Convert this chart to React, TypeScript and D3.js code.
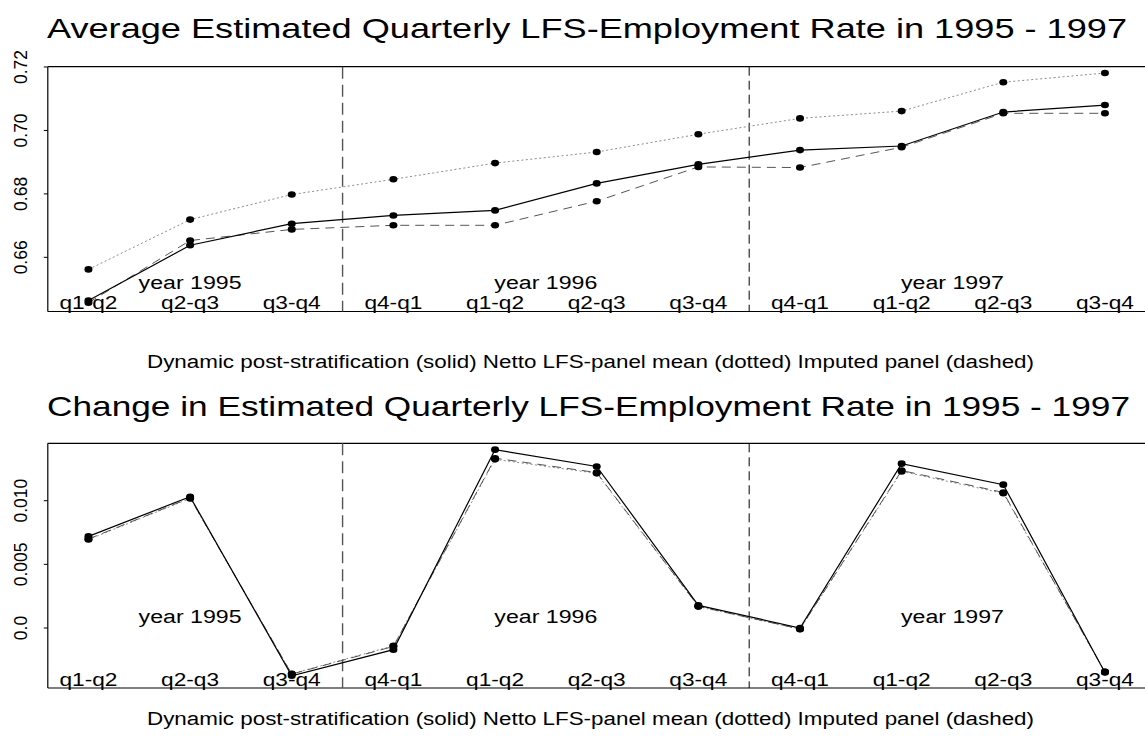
import React from "react";
import * as d3 from "d3";

const quarterLabels = ["q1-q2","q2-q3","q3-q4","q4-q1","q1-q2","q2-q3","q3-q4","q4-q1","q1-q2","q2-q3","q3-q4"];
const yearLabels = ["year 1995", "year 1996", "year 1997"];
const yearPositions = [1, 4.5, 8.5];
const yearBreaks = [2.5, 6.5];

// Top panel: average estimated quarterly employment rate
const topSolid = [0.6464, 0.6638, 0.6706, 0.6732, 0.6748, 0.6833, 0.6893, 0.6938, 0.6951, 0.7058, 0.7080];
const topDotted = [0.6562, 0.6719, 0.6798, 0.6846, 0.6897, 0.6932, 0.6988, 0.7038, 0.7061, 0.7152, 0.7181];
const topDashed = [0.6457, 0.6653, 0.6688, 0.6701, 0.6701, 0.6777, 0.6885, 0.6883, 0.6947, 0.7054, 0.7054];
const topTicks = [0.66, 0.68, 0.70, 0.72];
const topTickLabels = ["0.66", "0.68", "0.70", "0.72"];

// Bottom panel: change in estimated rate
const botSolid = [0.00720, 0.01031, -0.00375, -0.00170, 0.01401, 0.01269, 0.00178, 0.00000, 0.01291, 0.01126, -0.00349];
const botDotted = [0.00695, 0.01018, -0.00360, -0.00140, 0.01325, 0.01215, 0.00168, -0.00010, 0.01230, 0.01058, -0.00345];
const botDashed = [0.00699, 0.01022, -0.00362, -0.00145, 0.01334, 0.01221, 0.00170, -0.00008, 0.01237, 0.01065, -0.00345];
const botTicks = [0.0, 0.005, 0.010];
const botTickLabels = ["0.0", "0.005", "0.010"];

const titles = [
  "Average Estimated Quarterly LFS-Employment Rate in 1995 - 1997",
  "Change in Estimated Quarterly LFS-Employment Rate in 1995 - 1997",
];
const subtitle = "Dynamic post-stratification (solid) Netto LFS-panel mean (dotted) Imputed panel (dashed)";

const FONT = "'Liberation Sans', Arial, Helvetica, sans-serif";

const x = d3.scaleLinear().domain([-0.4, 10.4]).range([47.8, 1145.6]);

type PanelProps = {
  top: number; bottom: number; domain: [number, number];
  solid: number[]; dotted: number[]; dashed: number[];
  ticks: number[]; tickLabels: string[];
  title: string; titleY: number; titleLen: number; titleX: number;
  subY: number; qBase: number; yearBase: number;
};

function Panel(p: PanelProps) {
  const y = d3.scaleLinear().domain(p.domain).range([p.bottom, p.top]);
  const line = d3.line<number>().x((_, i) => x(i)).y((d) => y(d));
  const series = [
    { data: p.dotted, stroke: "#8c8c8c", dash: "2,2.5", w: 1 },
    { data: p.dashed, stroke: "#555", dash: "9,6", w: 1 },
    { data: p.solid, stroke: "#000", dash: undefined as string | undefined, w: 1.2 },
  ];
  const left = x(-0.4);
  return (
    <g>
      <text x={p.titleX} y={p.titleY} textAnchor="middle" fontSize={27.5} fontFamily={FONT}
        textLength={p.titleLen} lengthAdjust="spacingAndGlyphs">{p.title}</text>
      {/* box */}
      <line x1={left} x2={1150} y1={p.top} y2={p.top} stroke="#000" strokeWidth={1.2} />
      <line x1={left} x2={1150} y1={p.bottom} y2={p.bottom} stroke="#000" strokeWidth={1.2} />
      <line x1={left} x2={left} y1={p.top} y2={p.bottom} stroke="#000" strokeWidth={1.2} />
      {/* y ticks */}
      {p.ticks.map((t, i) => (
        <g key={i}>
          <line x1={left - 4} x2={left} y1={y(t)} y2={y(t)} stroke="#000" strokeWidth={1} />
          <text transform={`translate(${27},${y(t)}) rotate(-90)`} textAnchor="middle" fontSize={17.5}
            fontFamily={FONT}>{p.tickLabels[i]}</text>
        </g>
      ))}
      {/* year breaks */}
      {yearBreaks.map((b, i) => (
        <line key={i} x1={x(b)} x2={x(b)} y1={p.top} y2={p.bottom}
          stroke={i === 0 ? "#555" : "#000"} strokeWidth={i === 0 ? 1.4 : 1}
          strokeDasharray={i === 0 ? "12,6" : "9,5"} />
      ))}
      {/* series */}
      {series.map((s, k) => (
        <path key={k} d={line(s.data) || ""} fill="none" stroke={s.stroke} strokeWidth={s.w}
          strokeDasharray={s.dash} />
      ))}
      {series.map((s, k) => s.data.map((d, i) => (
        <ellipse key={`${k}-${i}`} cx={x(i)} cy={y(d)} rx={4} ry={3.3} fill="#000" />
      )))}
      {/* labels */}
      {quarterLabels.map((q, i) => (
        <text key={i} x={x(i)} y={p.qBase} textAnchor="middle" fontSize={18.5} fontFamily={FONT}
          textLength={58} lengthAdjust="spacingAndGlyphs">{q}</text>
      ))}
      {yearLabels.map((t, i) => (
        <text key={i} x={x(yearPositions[i])} y={p.yearBase} textAnchor="middle" fontSize={18}
          fontFamily={FONT} textLength={103} lengthAdjust="spacingAndGlyphs">{t}</text>
      ))}
      <text x={590.5} y={p.subY} textAnchor="middle" fontSize={18} fontFamily={FONT}
        textLength={887} lengthAdjust="spacingAndGlyphs">{subtitle}</text>
    </g>
  );
}

export default function App() {
  return (
    <svg width={1145} height={749} style={{ position: "absolute", left: 0, top: 0, background: "#fff" }}>
      <rect width={1145} height={749} fill="#fff" />
      <Panel top={66.7} bottom={311.5} domain={[0.64293, 0.72009]}
        solid={topSolid} dotted={topDotted} dashed={topDashed}
        ticks={topTicks} tickLabels={topTickLabels}
        title={titles[0]} titleY={38} titleLen={1080} titleX={587}
        subY={368} qBase={309} yearBase={289} />
      <Panel top={443.3} bottom={688} domain={[-0.004713, 0.014509]}
        solid={botSolid} dotted={botDotted} dashed={botDashed}
        ticks={botTicks} tickLabels={botTickLabels}
        title={titles[1]} titleY={416} titleLen={1083} titleX={588.5}
        subY={724.5} qBase={686} yearBase={622.5} />
    </svg>
  );
}
